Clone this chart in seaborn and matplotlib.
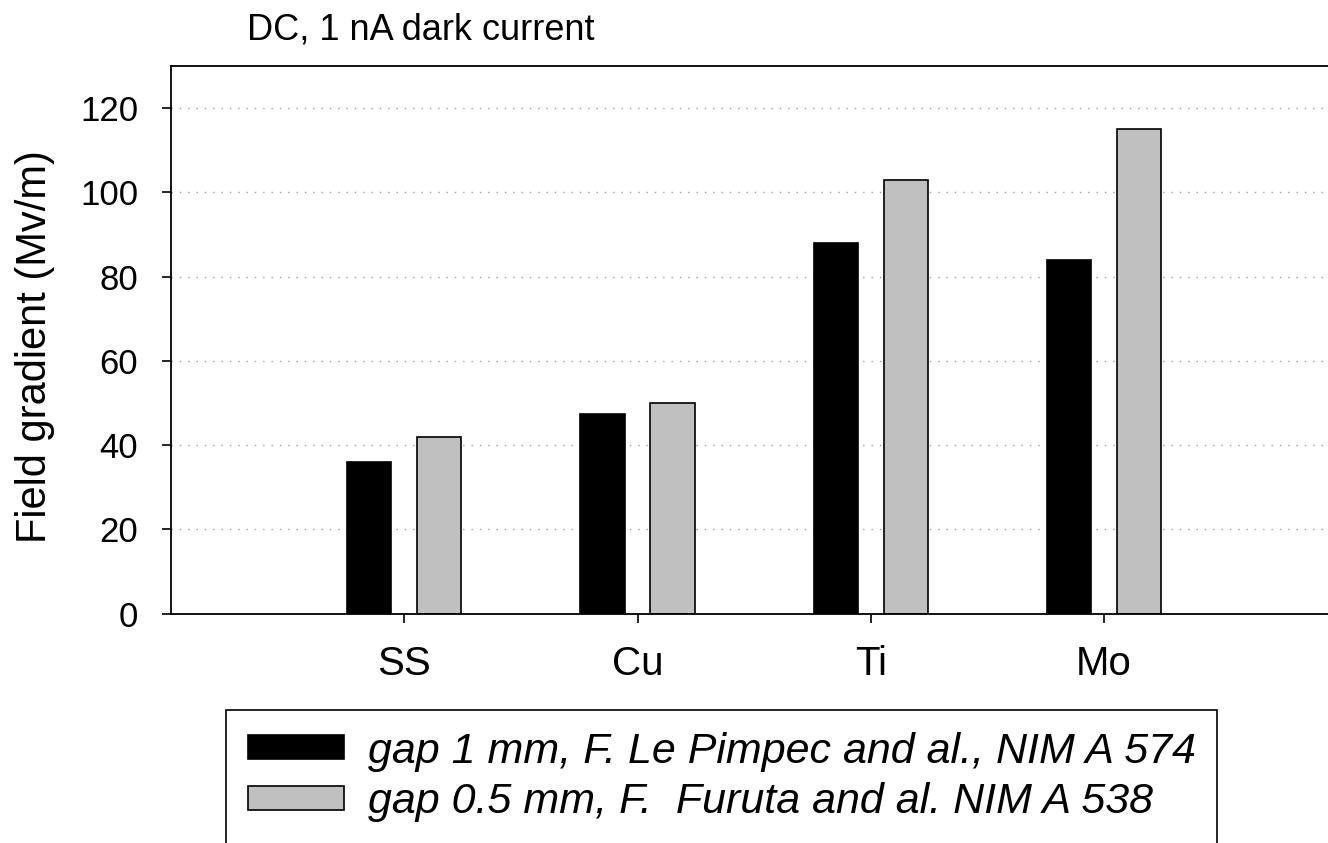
import matplotlib
matplotlib.use("Agg")
import matplotlib.pyplot as plt
import seaborn as sns
import pandas as pd

materials = ["SS", "Cu", "Ti", "Mo"]
series_names = ["gap 1 mm, F. Le Pimpec and al., NIM A 574",
                "gap 0.5 mm, F.  Furuta and al. NIM A 538"]
gap1_values = [36, 47.5, 88, 84]
gap05_values = [42, 50, 103, 115]
y_ticks = [0, 20, 40, 60, 80, 100, 120]
title_text = "DC, 1 nA dark current"
ylabel_text = "Field gradient (Mv/m)"

df = pd.DataFrame({
    "Material": materials * 2,
    "Series": [series_names[0]] * len(materials) + [series_names[1]] * len(materials),
    "Value": gap1_values + gap05_values,
})

sns.set_style("white")
plt.rcParams["font.family"] = ["Liberation Sans", "DejaVu Sans"]
plt.rcParams["text.color"] = "black"
plt.rcParams["axes.labelcolor"] = "black"
plt.rcParams["xtick.color"] = "black"
plt.rcParams["ytick.color"] = "black"

W, H = 1328, 843
fig = plt.figure(figsize=(W / 100, H / 100), dpi=100)
ax_left, ax_right, ax_top, ax_bottom = 171, 1328, 66, 613.7
ax = fig.add_axes([ax_left / W, 1 - ax_bottom / H,
                   (ax_right - ax_left) / W, (ax_bottom - ax_top) / H])

sns.barplot(data=df, x="Material", y="Value", hue="Series", order=materials,
            hue_order=series_names, palette=["black", "#c0c0c0"],
            width=0.6, gap=0.37, edgecolor="black", linewidth=1.2,
            saturation=1, ax=ax, legend=True)

ax.set_xlim(-1.0, 3.96)
ax.set_ylim(0, 130)
ax.set_yticks(y_ticks)
ax.set_xlabel("")
ax.set_ylabel(ylabel_text, fontsize=30, va="center", color="black")
ax.yaxis.set_label_coords((35 - ax_left) / (ax_right - ax_left), (ax_bottom - 347) / (ax_bottom - ax_top))

ax.tick_params(axis="x", labelsize=29, length=6.5, width=1.2, pad=16, direction="out",
               bottom=True, color="black", labelcolor="black")
ax.tick_params(axis="y", labelsize=25, length=6.5, width=1.2, pad=17, direction="out",
               left=True, color="black", labelcolor="black")

for s in ["left", "top", "bottom"]:
    ax.spines[s].set_visible(True)
    ax.spines[s].set_color("black")
    ax.spines[s].set_linewidth(1.3)
ax.spines["right"].set_visible(False)

ax.set_axisbelow(True)
ax.yaxis.grid(True, color="#a0a0a0", linestyle=(0, (1, 5)), linewidth=1)
ax.xaxis.grid(False)

t = ax.set_title(title_text, loc="left", fontsize=26, pad=19, color="black")
t.set_x((247 - ax_left) / (ax_right - ax_left))

handles, labels = ax.get_legend_handles_labels()
ax.get_legend().remove()
leg = ax.legend(handles, labels, loc="upper left",
                bbox_to_anchor=(226 / W, 1 - 710 / H), bbox_transform=fig.transFigure,
                prop={"size": 31, "style": "italic"}, frameon=True, fancybox=False,
                shadow=False, borderpad=0.5, borderaxespad=0, handlelength=2.25,
                handleheight=0.46, handletextpad=0.55, labelspacing=0.25)
fr = leg.get_frame()
fr.set_edgecolor("black")
fr.set_linewidth(1.2)
fr.set_alpha(1)
for txt in leg.get_texts():
    txt.set_color("black")
for h in leg.legend_handles:
    h.set_edgecolor("black")
    h.set_linewidth(1.2)

fig.savefig("out.png", dpi=100)
